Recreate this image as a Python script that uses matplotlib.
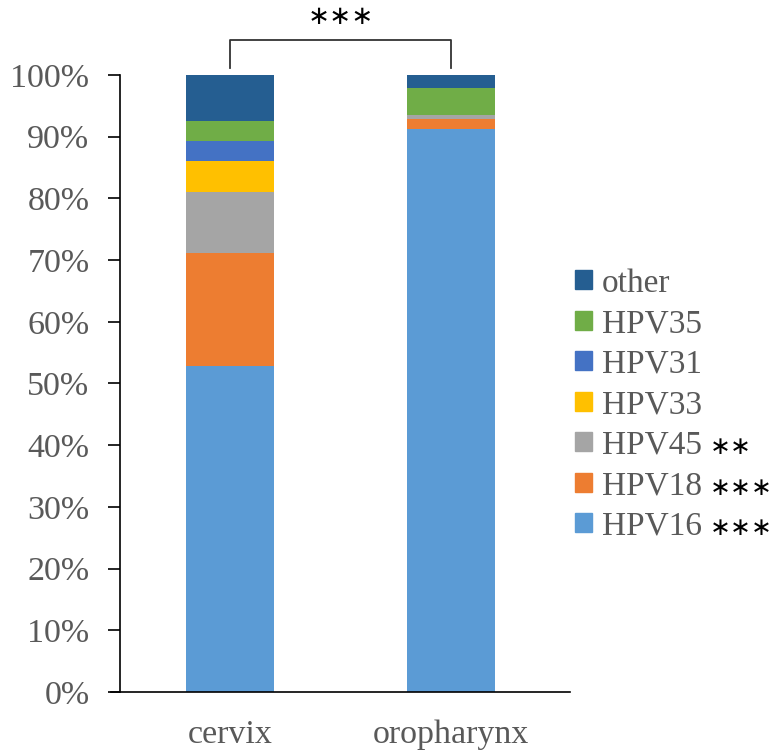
import matplotlib.pyplot as plt
from matplotlib.patches import Patch

sites = ['cervix', 'oropharynx']
types = ['HPV16', 'HPV18', 'HPV45', 'HPV33', 'HPV31', 'HPV35', 'other']
stars = ['∗∗∗', '∗∗∗', '∗∗', '', '', '', '']
colors = ['#5B9BD5', '#ED7D31', '#A5A5A5', '#FFC000', '#4472C4', '#70AD47', '#255E91']
# percent of each site, bottom to top
cervix = [52.9, 18.2, 9.9, 5.1, 3.2, 3.3, 7.4]
oropharynx = [91.3, 1.5, 0.7, 0.0, 0.0, 4.4, 2.1]

plt.rcParams['font.family'] = ['Liberation Serif', 'DejaVu Sans']
grey = '#595959'

fig = plt.figure(figsize=(7.73, 7.51), dpi=100)
ax = fig.add_axes([0.1552, 0.0786, 0.5822, 0.8215])

x = [0, 1]
bottom = [0, 0]
for i, t in enumerate(types):
    vals = [cervix[i], oropharynx[i]]
    ax.bar(x, vals, width=0.4, bottom=bottom, color=colors[i], label=t)
    bottom = [bottom[0] + vals[0], bottom[1] + vals[1]]

ax.set_xlim(-0.5, 1.54)
ax.set_ylim(0, 100)
ax.set_yticks(range(0, 101, 10))
ax.set_yticklabels([f'{v}%' for v in range(0, 101, 10)])
ax.set_xticks(x)
ax.set_xticklabels(sites)
ax.tick_params(axis='y', labelsize=24.5, colors='black', labelcolor=grey, length=9, width=1.2, pad=13)
ax.tick_params(axis='x', labelsize=24.5, labelcolor=grey, length=0, pad=20)
for s in ['top', 'right']:
    ax.spines[s].set_visible(False)
ax.spines['left'].set_linewidth(1.2)
ax.spines['bottom'].set_linewidth(1.2)
ax.spines['bottom'].set_bounds(-0.54, 1.54)

# significance bracket
ax.plot([0, 0, 1, 1], [101.1, 105.7, 105.7, 101.1], color='#333333', lw=1.3, clip_on=False)
ax.text(0.5, 109.4, '∗∗∗', ha='center', va='center', fontsize=19, family='DejaVu Sans', clip_on=False)

handles = [Patch(color=colors[i], label=types[i]) for i in range(len(types))][::-1]
leg = fig.legend(handles=handles, loc='center left', bbox_to_anchor=(0.744, 0.461),
                 frameon=False, fontsize=24, handlelength=0.5, handleheight=0.5,
                 handletextpad=0.3, labelspacing=0.3, borderpad=0, borderaxespad=0)
for txt in leg.get_texts():
    txt.set_color(grey)

fig.canvas.draw()
inv = fig.transFigure.inverted()
for txt, st in zip(leg.get_texts(), stars[::-1]):
    if not st:
        continue
    bb = txt.get_window_extent()
    x0, y0 = inv.transform((bb.x1 + 8, (bb.y0 + bb.y1) / 2 - 2))
    fig.text(x0, y0, st, ha='left', va='center', fontsize=18, family='DejaVu Sans')

fig.savefig('out.png', dpi=100)
